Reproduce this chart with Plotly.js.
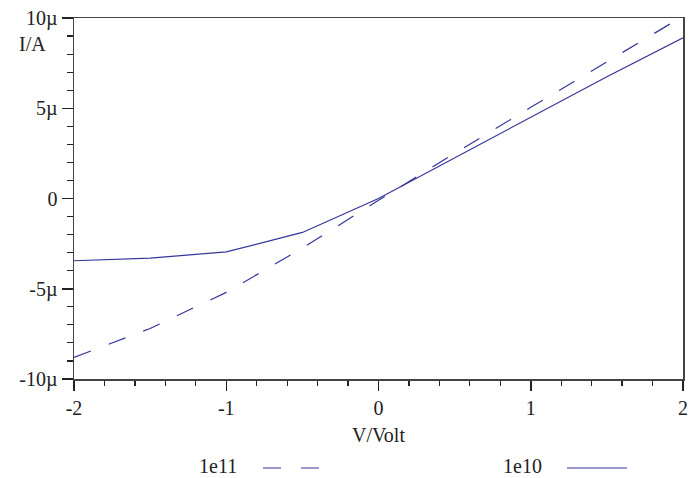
<!DOCTYPE html>
<html>
<head>
<meta charset="utf-8">
<script src="https://cdn.plot.ly/plotly-3.0.1.min.js"></script>
<style>html,body{margin:0;padding:0;background:#fff;}#plot{width:697px;height:478px;}</style>
</head>
<body>
<div id="plot"></div>
<script>
const voltage = [-2, -1.5, -1, -0.5, 0, 0.5, 1, 1.5, 2];
const current1e11 = [-8.8e-6, -7.2e-6, -5.2e-6, -2.75e-6, -0.1e-6, 2.5e-6, 5.05e-6, 7.6e-6, 10.1e-6];
const current1e10 = [-3.45e-6, -3.3e-6, -2.96e-6, -1.88e-6, 0.0e-6, 2.25e-6, 4.5e-6, 6.75e-6, 8.9e-6];
const seriesNames = ['1e11', '1e10'];
const xTickVals = [-2, -1, 0, 1, 2];
const xTickText = ['-2', '-1', '0', '1', '2'];
const yTickVals = [-10e-6, -5e-6, 0, 5e-6, 10e-6];
const yTickText = ['-10µ', '-5µ', '0', '5µ', '10µ'];

const lineColor = '#35359a';
const font = {family: 'Liberation Serif, Times New Roman, serif', size: 20, color: '#222'};

const traces = [
  {x: voltage, y: current1e11, name: seriesNames[0], mode: 'lines',
   line: {color: lineColor, width: 1.2, dash: '18px,19px'}},
  {x: voltage, y: current1e10, name: seriesNames[1], mode: 'lines',
   line: {color: lineColor, width: 1.2}}
];

const axisCommon = {
  showgrid: false, zeroline: false, showline: true, mirror: true,
  linecolor: '#444', linewidth: 1.5, ticks: 'outside', tickcolor: '#222',
  tickwidth: 1.5, tickfont: font
};

const layout = {
  width: 697, height: 478,
  margin: {l: 74, r: 14, t: 18, b: 99},
  paper_bgcolor: '#fff', plot_bgcolor: '#fff',
  showlegend: false,
  font: font,
  xaxis: Object.assign({}, axisCommon, {
    range: [-2, 2], tickvals: xTickVals, ticktext: xTickText, ticklen: 10,
    minor: {dtick: 0.2, ticks: 'outside', ticklen: 5, tickcolor: '#222', tickwidth: 1.2, showgrid: false},
    title: {text: 'V/Volt', font: font, standoff: 10}
  }),
  yaxis: Object.assign({}, axisCommon, {
    range: [-10e-6, 10e-6], tickvals: yTickVals, ticktext: yTickText, ticklen: 11,
    minor: {dtick: 1e-6, ticks: 'outside', ticklen: 6, tickcolor: '#222', tickwidth: 1.2, showgrid: false}
  }),
  annotations: [
    {text: 'I/A', xref: 'paper', yref: 'paper', x: (32 - 74) / 609, y: 1 - (44 - 18) / 361, xanchor: 'center', yanchor: 'middle', showarrow: false, font: font},
    {text: seriesNames[0], xref: 'paper', yref: 'paper', x: (218 - 74) / 609, y: -(466 - 379) / 361, xanchor: 'center', yanchor: 'middle', showarrow: false, font: font},
    {text: seriesNames[1], xref: 'paper', yref: 'paper', x: (522 - 74) / 609, y: -(466 - 379) / 361, xanchor: 'center', yanchor: 'middle', showarrow: false, font: font}
  ],
  shapes: [
    {type: 'line', xref: 'paper', yref: 'paper', x0: (263 - 74) / 609, x1: (320 - 74) / 609, y0: -(468 - 379) / 361, y1: -(468 - 379) / 361,
     line: {color: lineColor, width: 1.2, dash: '18px,20px'}},
    {type: 'line', xref: 'paper', yref: 'paper', x0: (567 - 74) / 609, x1: (627 - 74) / 609, y0: -(468 - 379) / 361, y1: -(468 - 379) / 361,
     line: {color: lineColor, width: 1.2}}
  ]
};

Plotly.newPlot('plot', traces, layout, {displayModeBar: false, staticPlot: true});
</script>
</body>
</html>
